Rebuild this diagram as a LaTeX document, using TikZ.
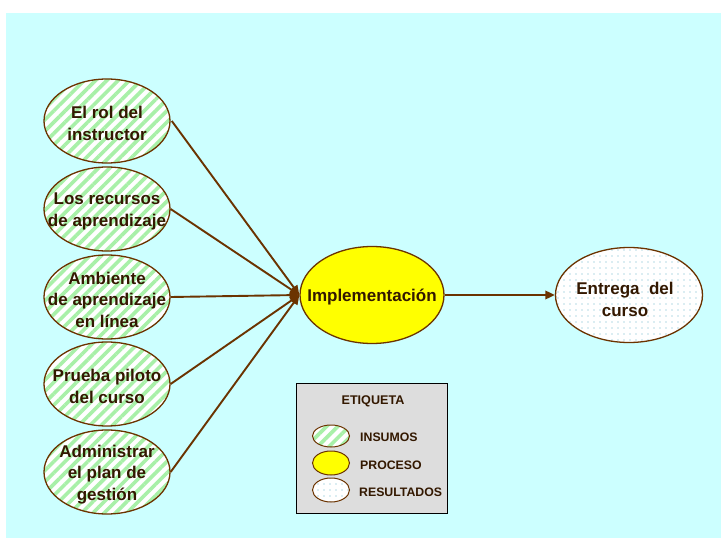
\documentclass[tikz,border=0pt]{standalone}
\usepackage{fontspec}
\setmainfont{Liberation Sans}
\usetikzlibrary{shapes.geometric,arrows.meta,patterns.meta}
\definecolor{bgcyan}{HTML}{CCFFFF}
\definecolor{edge}{HTML}{6B3300}
\definecolor{ink}{HTML}{331800}
\definecolor{stripe}{HTML}{A8F0A8}
\definecolor{dotc}{HTML}{B8DCE6}
\definecolor{procyellow}{HTML}{FFFF00}
\definecolor{boxgray}{HTML}{DDDDDD}
\tikzset{
  bubble/.style={ellipse, draw=edge, line width=1.3pt, inner sep=0pt},
  insumo/.style={bubble, preaction={fill=white},
    pattern={Lines[angle=45,distance=8pt,line width=3.6pt]}, pattern color=stripe},
  proceso/.style={bubble, fill=procyellow},
  resultado/.style={bubble, preaction={fill=white},
    pattern={Dots[distance=6pt,radius=0.9pt]}, pattern color=dotc},
  big/.style={minimum width=126pt, minimum height=84pt},
  caption/.style={text=ink, align=center, inner sep=0pt, yshift=-2.5pt,
    font=\bfseries\fontsize{17}{21.5}\selectfont},
  link/.style={draw=edge, line width=1.9pt,
    -{Triangle[length=9.5pt,width=8.5pt]}},
  legtext/.style={anchor=west, text=ink, inner sep=0pt,
    font=\bfseries\fontsize{12.3}{14}\selectfont}
}
\begin{document}
\begin{tikzpicture}[x=1pt,y=-1pt]
  \useasboundingbox (0,0) rectangle (721,538);
  \fill[white] (0,0) rectangle (721,538);
  \fill[bgcyan] (6,13) rectangle (721,538);

  % inputs
  \node[insumo, big] (rol) at (107,121) {};
  \node[insumo, big] (rec) at (107,209) {};
  \node[insumo, big] (amb) at (107,297) {};
  \node[insumo, big] (pru) at (107,384) {};
  \node[insumo, big] (adm) at (107,472) {};
  \node[caption] (rolt) at (rol) {El rol del\\instructor};
  \node[caption] (rect) at (rec) {Los recursos\\de aprendizaje};
  \node[caption] (ambt) at (amb) {Ambiente\\de aprendizaje\\en línea};
  \node[caption] (prut) at (pru) {Prueba piloto\\del curso};
  \node[caption] (admt) at (adm) {Administrar\\el plan de\\gestión};

  % process and result
  \node[proceso, minimum width=144pt, minimum height=97pt] (imp) at (372,295) {};
  \node[caption] (impt) at (imp) {Implementación};
  \node[resultado, minimum width=147pt, minimum height=95pt] (ent) at (629,295) {};
  \node[caption] (entt) at (625,297) {Entrega\ \ del\\curso\ };

  % connectors
  \foreach \src in {rol,rec,amb,pru,adm}
    \draw[link] (\src.east) -- (imp.west);
  \draw[link] (imp.east) -- (ent.west);

  % legend
  \node[draw=black, fill=boxgray, line width=0.8pt, minimum width=151pt, minimum height=130pt, inner sep=0pt] (leg) at (371.5,448) {};
  \node[text=ink, font=\bfseries\fontsize{12.6}{14}\selectfont, inner sep=0pt] (legt) at (373,401) {ETIQUETA};
  \node[insumo, minimum width=37pt, minimum height=22pt, line width=1pt] (li) at (331,436) {};
  \node[proceso, minimum width=37pt, minimum height=24pt, line width=1pt] (lp) at (331,463) {};
  \node[resultado, minimum width=37pt, minimum height=24pt, line width=1pt] (lr) at (331,490) {};
  \node[legtext] (lit) at (360,437) {INSUMOS};
  \node[legtext] (lpt) at (360,465) {PROCESO};
  \node[legtext] (lrt) at (359,492) {RESULTADOS};
\end{tikzpicture}
\end{document}
